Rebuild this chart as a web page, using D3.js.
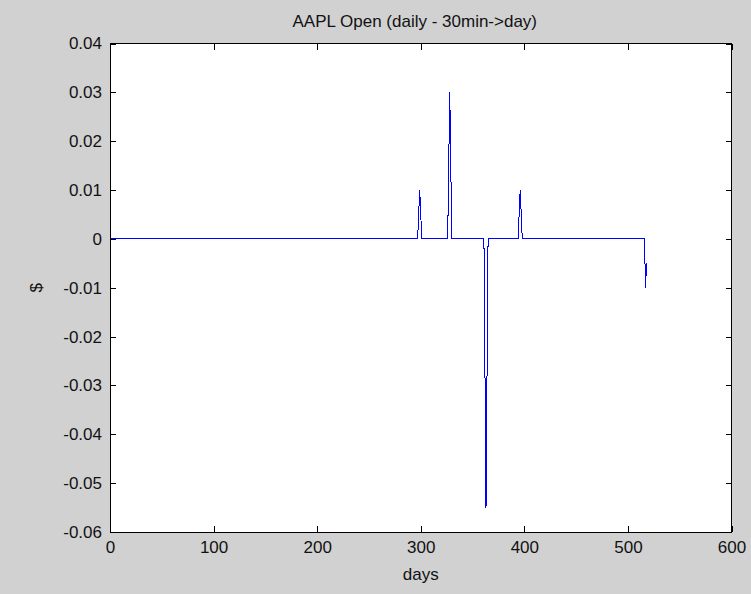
<!DOCTYPE html>
<html>
<head>
<meta charset="utf-8">
<script src="https://cdn.jsdelivr.net/npm/d3@7"></script>
<style>
  html, body { margin: 0; padding: 0; background: #d1d1d1; }
  svg { display: block; }
  text { font-family: "Liberation Sans", Arial, sans-serif; fill: #111; }
</style>
</head>
<body>
<svg id="chart" width="751" height="594"></svg>
<script>
// Daily change in AAPL open price, days 1..518 (zero unless listed below)
const firstDay = 1;
const lastDay = 518;
const spikeDays   = [298,   299,  300,   327,   328,  329,   362,     363,    364,     395,   396,  397,   517,   518];
const spikeValues = [0.005, 0.01, 0.005, 0.015, 0.03, 0.015, -0.0275, -0.055, -0.0275, 0.005, 0.01, 0.005, -0.01, -0.005];

const xTicks = [0, 100, 200, 300, 400, 500, 600];
const yTicks = [0.04, 0.03, 0.02, 0.01, 0, -0.01, -0.02, -0.03, -0.04, -0.05, -0.06];
const yTickLabels = ["0.04", "0.03", "0.02", "0.01", "0", "-0.01", "-0.02", "-0.03", "-0.04", "-0.05", "-0.06"];

const titleText = "AAPL Open (daily - 30min->day)";
const xLabel = "days";
const yLabel = "$";

// build the daily series
const spikeMap = new Map(spikeDays.map((d, i) => [d, spikeValues[i]]));
const series = d3.range(firstDay, lastDay + 1).map(d => ({ day: d, value: spikeMap.has(d) ? spikeMap.get(d) : 0 }));

const svg = d3.select("#chart");
const plot = { left: 110, top: 43.5, right: 731.5, bottom: 532 };

const x = d3.scaleLinear().domain([0, 600]).range([plot.left, plot.right]);
const y = d3.scaleLinear().domain([-0.06, 0.04]).range([plot.bottom, plot.top]);

// axes box background
svg.append("rect")
  .attr("x", plot.left).attr("y", plot.top)
  .attr("width", plot.right - plot.left).attr("height", plot.bottom - plot.top)
  .attr("fill", "#fff");

// data line (aliased, one pixel wide)
svg.append("path")
  .datum(series)
  .attr("fill", "none")
  .attr("stroke", "#0000ff")
  .attr("stroke-width", 1)
  .attr("shape-rendering", "crispEdges")
  .attr("d", d3.line().x(d => x(d.day)).y(d => y(d.value)));

const tickLen = 6;
const fmtY = d => yTickLabels[yTicks.indexOf(d)];

// bottom axis with inward ticks and labels
const axBottom = svg.append("g").attr("transform", `translate(0,${plot.bottom})`)
  .call(d3.axisBottom(x).tickValues(xTicks).tickSizeInner(-tickLen).tickSizeOuter(0).tickFormat(d3.format("d")));
// top axis: ticks only
const axTop = svg.append("g").attr("transform", `translate(0,${plot.top})`)
  .call(d3.axisTop(x).tickValues(xTicks).tickSizeInner(-tickLen).tickSizeOuter(0).tickFormat(""));
// left axis with labels
const axLeft = svg.append("g").attr("transform", `translate(${plot.left},0)`)
  .call(d3.axisLeft(y).tickValues(yTicks).tickSizeInner(-tickLen).tickSizeOuter(0).tickFormat(fmtY));
// right axis: ticks only
const axRight = svg.append("g").attr("transform", `translate(${plot.right},0)`)
  .call(d3.axisRight(y).tickValues(yTicks).tickSizeInner(-tickLen).tickSizeOuter(0).tickFormat(""));

[axBottom, axTop, axLeft, axRight].forEach(g => {
  g.select(".domain").remove();
  g.selectAll(".tick line").attr("stroke", "#000").attr("shape-rendering", "crispEdges");
  g.selectAll(".tick text").attr("font-size", 17).attr("fill", "#111")
    .attr("font-family", "'Liberation Sans', Arial, sans-serif");
});
axBottom.selectAll(".tick text").attr("dy", "0.71em").attr("y", 9);
axLeft.selectAll(".tick text").attr("x", -8);

// box outline
svg.append("rect")
  .attr("x", plot.left).attr("y", plot.top)
  .attr("width", plot.right - plot.left).attr("height", plot.bottom - plot.top)
  .attr("fill", "none").attr("stroke", "#000").attr("stroke-width", 1)
  .attr("shape-rendering", "crispEdges");

// title and axis labels
svg.append("text")
  .attr("x", (plot.left + plot.right) / 2 - 6).attr("y", 27)
  .attr("text-anchor", "middle").attr("font-size", 17)
  .text(titleText);

svg.append("text")
  .attr("x", (plot.left + plot.right) / 2).attr("y", 580)
  .attr("text-anchor", "middle").attr("font-size", 17)
  .text(xLabel);

svg.append("text")
  .attr("transform", `translate(42,${(plot.top + plot.bottom) / 2}) rotate(-90)`)
  .attr("text-anchor", "middle").attr("font-size", 17)
  .text(yLabel);
</script>
</body>
</html>
